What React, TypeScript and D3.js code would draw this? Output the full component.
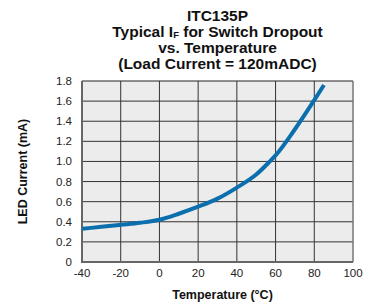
import React from "react";
import * as d3 from "d3";

const temps = [-40, -30, -20, -10, 0, 10, 20, 30, 40, 50, 57, 60, 70, 80, 85];
const currents = [0.33, 0.35, 0.37, 0.39, 0.42, 0.48, 0.55, 0.63, 0.74, 0.87, 1.0, 1.06, 1.32, 1.61, 1.76];
const xTicks = [-40, -20, 0, 20, 40, 60, 80, 100];
const yTicks = [0, 0.2, 0.4, 0.6, 0.8, 1.0, 1.2, 1.4, 1.6, 1.8];
const yTickLabels = ["0", "0.2", "0.4", "0.6", "0.8", "1.0", "1.2", "1.4", "1.6", "1.8"];

export default function App() {
  const W = 368, H = 305;
  const left = 82, right = 353, top = 81, bottom = 262;
  const x = d3.scaleLinear().domain([-40, 100]).range([left, right]);
  const y = d3.scaleLinear().domain([0, 1.8]).range([bottom, top]);
  const data = temps.map((t, i) => [t, currents[i]] as [number, number]);
  const line = d3.line<[number, number]>().x(d => x(d[0])).y(d => y(d[1])).curve(d3.curveMonotoneX);
  const font = "Liberation Sans, Arial, Helvetica, sans-serif";
  const cx = (left + right) / 2;
  return (
    <svg width={W} height={H} style={{ position: "absolute", left: 0, top: 0 }} fontFamily={font}>
      <rect x={0} y={0} width={W} height={H} fill="#fff" />
      <g fontWeight="bold" fontSize={15.5} textAnchor="middle" fill="#111">
        <text x={cx} y={21}>ITC135P</text>
        <text x={cx} y={36.5}>Typical I<tspan fontSize={9.5} dy={1}>F</tspan><tspan dy={-1}> for Switch Dropout</tspan></text>
        <text x={cx} y={53}>vs. Temperature</text>
        <text x={cx} y={68.5}>(Load Current = 120mADC)</text>
      </g>
      <rect x={left} y={top} width={right - left} height={bottom - top} fill="#ececec" />
      {yTicks.slice(1, -1).map(v => (
        <line key={"h" + v} x1={left} x2={right} y1={y(v)} y2={y(v)} stroke="#333" strokeWidth={1} />
      ))}
      {xTicks.slice(1, -1).map(v => (
        <line key={"v" + v} x1={x(v)} x2={x(v)} y1={top} y2={bottom} stroke="#333" strokeWidth={1} />
      ))}
      <line x1={left} x2={right} y1={top} y2={top} stroke="#222" strokeWidth={1.2} />
      <line x1={right} x2={right} y1={top} y2={bottom} stroke="#777" strokeWidth={1.5} />
      <line x1={left} x2={left} y1={top} y2={bottom + 1} stroke="#666" strokeWidth={2} />
      <line x1={left - 1} x2={right} y1={bottom} y2={bottom} stroke="#666" strokeWidth={2} />
      <path d={line(data) || ""} fill="none" stroke="#0b6fae" strokeWidth={4} strokeLinecap="butt" />
      <g fontSize={11.5} fill="#222">
        {yTicks.map((v, i) => (
          <text key={"yl" + v} x={72} y={y(v) + 4} textAnchor="end">{yTickLabels[i]}</text>
        ))}
        {xTicks.map(v => (
          <text key={"xl" + v} x={x(v)} y={277} textAnchor="middle">{v}</text>
        ))}
      </g>
      <text x={cx + 5} y={299} textAnchor="middle" fontWeight="bold" fontSize={12.5} fill="#111">Temperature (°C)</text>
      <text transform={`translate(27, ${(top + bottom) / 2}) rotate(-90)`} textAnchor="middle" fontWeight="bold" fontSize={12.5} fill="#111">LED Current (mA)</text>
    </svg>
  );
}
